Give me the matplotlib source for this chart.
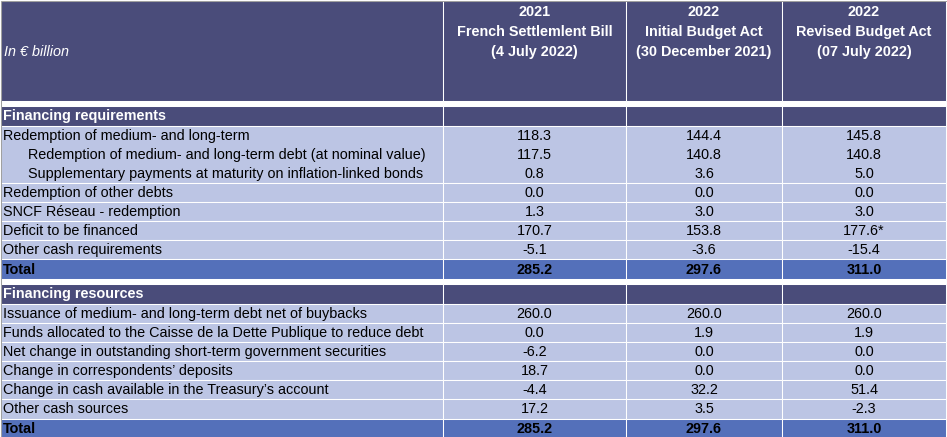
import matplotlib
matplotlib.use("Agg")
import matplotlib.pyplot as plt
from matplotlib.patches import Rectangle

plt.rcParams["font.family"] = ["Liberation Sans", "DejaVu Sans"]

# ---- data ----
unit_label = "In € billion"
col_years = ["2021", "2022", "2022"]
col_titles = ["French Settlemlent Bill", "Initial Budget Act", "Revised Budget Act"]
col_dates = ["(4 July 2022)", "(30 December 2021)", "(07 July 2022)"]

req_title = "Financing requirements"
req_labels = [
    "Redemption of medium- and long-term",
    "Redemption of medium- and long-term debt (at nominal value)",
    "Supplementary payments at maturity on inflation-linked bonds",
    "Redemption of other debts",
    "SNCF Réseau - redemption",
    "Deficit to be financed",
    "Other cash requirements",
]
req_indent = [0, 1, 1, 0, 0, 0, 0]
req_2021 = [118.3, 117.5, 0.8, 0.0, 1.3, 170.7, -5.1]
req_lfi = [144.4, 140.8, 3.6, 0.0, 3.0, 153.8, -3.6]
req_lfr = [145.8, 140.8, 5.0, 0.0, 3.0, 177.6, -15.4]
req_notes = ["", "", "", "", "", "*", ""]
req_total = [285.2, 297.6, 311.0]

res_title = "Financing resources"
res_labels = [
    "Issuance of medium- and long-term debt net of buybacks",
    "Funds allocated to the Caisse de la Dette Publique to reduce debt",
    "Net change in outstanding short-term government securities",
    "Change in correspondents’ deposits",
    "Change in cash available in the Treasury’s account",
    "Other cash sources",
]
res_2021 = [260.0, 0.0, -6.2, 18.7, -4.4, 17.2]
res_lfi = [260.0, 1.9, 0.0, 0.0, 32.2, 3.5]
res_lfr = [260.0, 1.9, 0.0, 0.0, 51.4, -2.3]
res_total = [285.2, 297.6, 311.0]

# ---- style ----
DARK = "#4a4c7a"
LIGHT = "#bcc5e4"
TOTAL = "#5470ba"
FS = 10.4

W, H = 947, 437
col_x = [1, 443, 626, 782, 946]
col_mid = [(col_x[i] + col_x[i + 1]) / 2 for i in range(1, 4)]
row_h = 19.1

fig = plt.figure(figsize=(W / 100, H / 100), dpi=100)
ax = fig.add_axes([0, 0, 1, 1])
ax.set_xlim(0, W)
ax.set_ylim(H, 0)
ax.axis("off")


def band(y0, y1, color):
    for i in range(4):
        ax.add_patch(Rectangle((col_x[i], y0), col_x[i + 1] - col_x[i], y1 - y0,
                               facecolor=color, edgecolor="white", lw=0.75))


# header
band(1, 100.5, DARK)
ax.text(4, 52, unit_label, color="white", style="italic", fontsize=FS, va="center")
for j in range(3):
    for k, s in enumerate([col_years[j], col_titles[j], col_dates[j]]):
        ax.text(col_mid[j], 12 + k * 20, s, color="white", fontweight="bold",
                fontsize=FS, ha="center", va="center")


def section(y, title, labels, indent, c1, c2, c3, notes, groups, total):
    band(y, y + row_h + 0.9, DARK)
    ax.text(3, y + row_h / 2 + 1, title, color="white", fontweight="bold",
            fontsize=FS, va="center")
    y += row_h + 0.9
    i = 0
    for g in groups:
        band(y, y + g * row_h, LIGHT)
        for k in range(g):
            yc = y + k * row_h + row_h / 2 + 0.5
            ax.text(3 + 25 * indent[i], yc, labels[i], fontsize=FS, va="center")
            ax.text(col_mid[0], yc, f"{c1[i]:.1f}", fontsize=FS, ha="center", va="center")
            ax.text(col_mid[1], yc, f"{c2[i]:.1f}", fontsize=FS, ha="center", va="center")
            ax.text(col_mid[2], yc, f"{c3[i]:.1f}{notes[i]}", fontsize=FS, ha="center", va="center")
            i += 1
        y += g * row_h
    band(y, y + row_h + 0.6, TOTAL)
    yc = y + row_h / 2 + 0.8
    ax.text(3, yc, "Total", fontweight="bold", fontsize=FS, va="center")
    for j in range(3):
        ax.text(col_mid[j], yc, f"{total[j]:.1f}", fontweight="bold", fontsize=FS,
                ha="center", va="center")
    return y + row_h + 0.6


y_end = section(105.5, req_title, req_labels, req_indent, req_2021, req_lfi, req_lfr,
                req_notes, [3, 1, 1, 1, 1], req_total)
section(y_end + 5, res_title, res_labels, [0] * 6, res_2021, res_lfi, res_lfr,
        [""] * 6, [1] * 6, res_total)

# outer grey frame
ax.add_patch(Rectangle((0.5, 0.5), W - 1, H - 1, fill=False, edgecolor="#a0a0a0", lw=0.75))

fig.savefig("out.png", dpi=100)
